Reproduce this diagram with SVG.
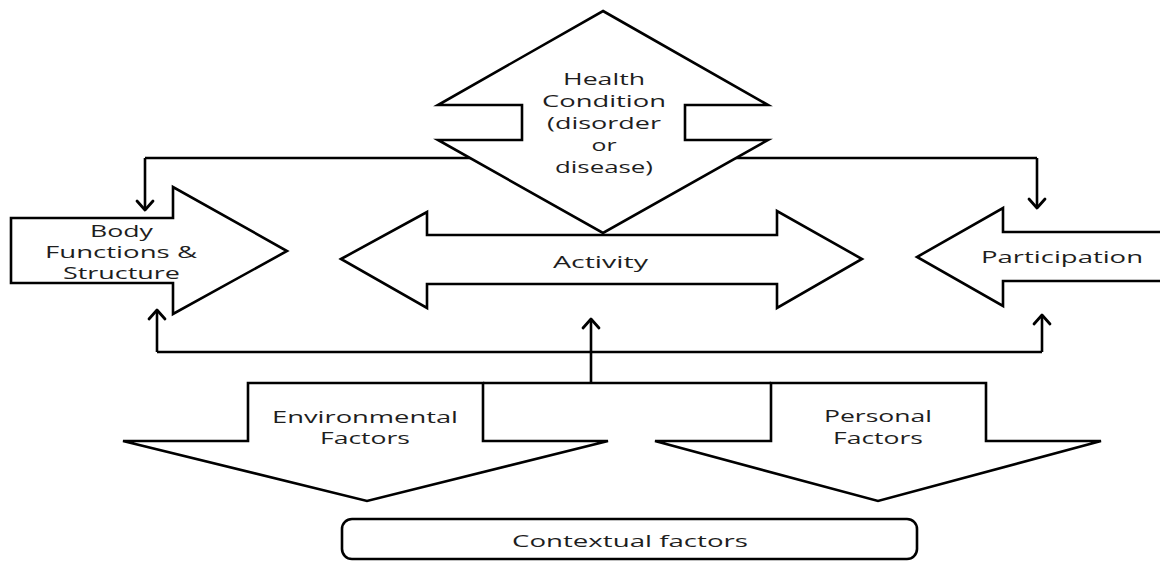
<svg xmlns="http://www.w3.org/2000/svg" width="1160" height="562" viewBox="0 0 1160 562">
<style>
.shape{fill:#fff;stroke:#000;stroke-width:2.6;stroke-linejoin:miter}
.open{fill:none;stroke:#000;stroke-width:2.6}
.conn{fill:none;stroke:#000;stroke-width:2.6}
.head{fill:none;stroke:#000;stroke-width:2.8;stroke-linecap:round;stroke-linejoin:round}
.lbl{font-family:"Open Sans","DejaVu Sans",sans-serif;font-size:16.5px;fill:#1e1e1e}
</style>
<rect width="1160" height="562" fill="#fff"/>
<g id="connectors">
  <path class="conn" d="M145,158 H1037"/>
  <path class="conn" d="M145,158 V210"/>
  <path class="head" d="M137,201 L145,210 L153,201"/>
  <path class="conn" d="M1037,158 V208"/>
  <path class="head" d="M1029,199 L1037,208 L1045,199"/>
  <path class="conn" d="M157,352 H1042"/>
  <path class="conn" d="M157,352 V310"/>
  <path class="head" d="M149,319 L157,310 L165,319"/>
  <path class="conn" d="M1042,352 V315"/>
  <path class="head" d="M1034,324 L1042,315 L1050,324"/>
  <path class="conn" d="M591,383 V319"/>
  <path class="head" d="M583,328 L591,319 L599,328"/>
</g>
<g id="health-condition">
  <polygon class="shape" points="603,11 768,105 685,105 685,140 768,140 603,233 438,140 522,140 522,105 438,105"/>
  <text class="lbl" x="563" y="85" textLength="82" lengthAdjust="spacingAndGlyphs">Health</text>
  <text class="lbl" x="542" y="107" textLength="124" lengthAdjust="spacingAndGlyphs">Condition</text>
  <text class="lbl" x="547" y="129" textLength="114" lengthAdjust="spacingAndGlyphs">(disorder</text>
  <text class="lbl" x="591.5" y="151" textLength="25" lengthAdjust="spacingAndGlyphs">or</text>
  <text class="lbl" x="555" y="173" textLength="98" lengthAdjust="spacingAndGlyphs">disease)</text>
</g>
<g id="body-functions">
  <polygon class="shape" points="11,218 173,218 173,187 287,251 173,314 173,283 11,283"/>
  <text class="lbl" x="90" y="237" textLength="63" lengthAdjust="spacingAndGlyphs">Body</text>
  <text class="lbl" x="45" y="258" textLength="152" lengthAdjust="spacingAndGlyphs">Functions &amp;</text>
  <text class="lbl" x="63" y="279" textLength="117" lengthAdjust="spacingAndGlyphs">Structure</text>
</g>
<g id="activity">
  <polygon class="shape" points="341,259 427,212 427,235 777,235 777,211 862,259 777,308 777,284 427,284 427,308"/>
  <text class="lbl" x="553" y="268" textLength="95" lengthAdjust="spacingAndGlyphs">Activity</text>
</g>
<g id="participation">
  <polygon class="shape" points="1170,232 1003,232 1003,208 917,257 1003,306 1003,281 1170,281"/>
  <text class="lbl" x="981" y="263" textLength="162" lengthAdjust="spacingAndGlyphs">Participation</text>
</g>
<g id="environmental-factors">
  <polygon class="shape" points="248,383 483,383 483,441 608,441 367,501 123,441 248,441"/>
  <text class="lbl" x="272" y="423" textLength="186" lengthAdjust="spacingAndGlyphs">Environmental</text>
  <text class="lbl" x="320" y="444" textLength="90" lengthAdjust="spacingAndGlyphs">Factors</text>
</g>
<g id="personal-factors">
  <polygon class="shape" points="771,383 986,383 986,441 1101,441 878,501 655,441 771,441"/>
  <text class="lbl" x="824" y="422" textLength="108" lengthAdjust="spacingAndGlyphs">Personal</text>
  <text class="lbl" x="833" y="444" textLength="90" lengthAdjust="spacingAndGlyphs">Factors</text>
</g>
<g id="shaft-link">
  <path class="open" d="M483,383 H771"/>
</g>
<g id="contextual-factors">
  <rect class="shape" x="342" y="519" width="575" height="40" rx="10"/>
  <text class="lbl" x="512" y="547" textLength="236" lengthAdjust="spacingAndGlyphs">Contextual factors</text>
</g>
</svg>
